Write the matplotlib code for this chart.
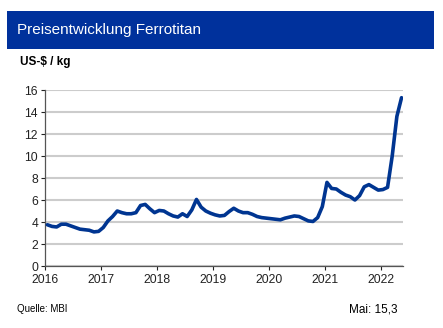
import matplotlib
matplotlib.use('Agg')
import matplotlib.pyplot as plt
from matplotlib.patches import Rectangle
import numpy as np

plt.rcParams['font.family'] = ['Liberation Sans', 'DejaVu Sans']

# monthly prices Jan 2016 - May 2022, US-$/kg
p2016 = [3.75, 3.6, 3.55, 3.8, 3.8, 3.65, 3.5, 3.35, 3.3, 3.25, 3.1, 3.15]
p2017 = [3.5, 4.1, 4.5, 5.0, 4.85, 4.75, 4.75, 4.85, 5.5, 5.6, 5.2, 4.85]
p2018 = [5.05, 5.0, 4.75, 4.55, 4.45, 4.75, 4.5, 5.1, 6.05, 5.35, 5.0, 4.8]
p2019 = [4.65, 4.55, 4.6, 4.95, 5.25, 5.0, 4.85, 4.85, 4.7, 4.5, 4.4, 4.35]
p2020 = [4.3, 4.25, 4.2, 4.35, 4.45, 4.55, 4.5, 4.3, 4.1, 4.05, 4.4, 5.4]
p2021 = [7.6, 7.05, 7.0, 6.7, 6.45, 6.3, 6.0, 6.4, 7.2, 7.4, 7.15, 6.9]
p2022 = [6.95, 7.15, 10.0, 13.6, 15.3]
prices = p2016 + p2017 + p2018 + p2019 + p2020 + p2021 + p2022

years = ['2016', '2017', '2018', '2019', '2020', '2021', '2022']
yticks = [0, 2, 4, 6, 8, 10, 12, 14, 16]

fig = plt.figure(figsize=(4.43, 3.28), dpi=100)
ax = fig.add_axes([0.1016, 0.189, 0.809, 0.5366])

# header bar
fig.patches.append(Rectangle((0.0158, 0.8506), 0.964, 0.1159, transform=fig.transFigure,
                             facecolor='#00319c', edgecolor='none', zorder=0))
fig.text(0.038, 0.909, 'Preisentwicklung Ferrotitan', color='white', fontsize=11,
         va='center', ha='left')
fig.text(0.045, 0.81, 'US-$ / kg', fontsize=8.5, fontweight='bold', va='center', ha='left')

x = np.arange(len(prices)) + 0.5  # mid-month positions
ax.plot(x, prices, color='#003591', linewidth=2.6, solid_capstyle='round',
        solid_joinstyle='round', zorder=3)

ax.set_xlim(0, 76.9)
ax.set_ylim(0, 16)
ax.set_yticks(yticks)
ax.set_xticks(np.arange(len(years)) * 12)
ax.set_xticklabels(years)
ax.yaxis.grid(True, color='#cccccc', linewidth=1.5)
ax.set_axisbelow(True)
for s in ['top', 'right']:
    ax.spines[s].set_visible(False)
for s in ['left', 'bottom']:
    ax.spines[s].set_color('#555555')
    ax.spines[s].set_linewidth(0.9)
ax.tick_params(axis='both', labelsize=8.7, colors='#222222', length=3, width=0.8)
ax.tick_params(axis='x', pad=3)
ax.tick_params(axis='y', pad=2)

fig.text(0.038, 0.057, 'Quelle: MBI', fontsize=7, va='center', ha='left')
fig.text(0.897, 0.057, 'Mai: 15,3', fontsize=8.5, va='center', ha='right')

plt.savefig('out.png', dpi=100)
